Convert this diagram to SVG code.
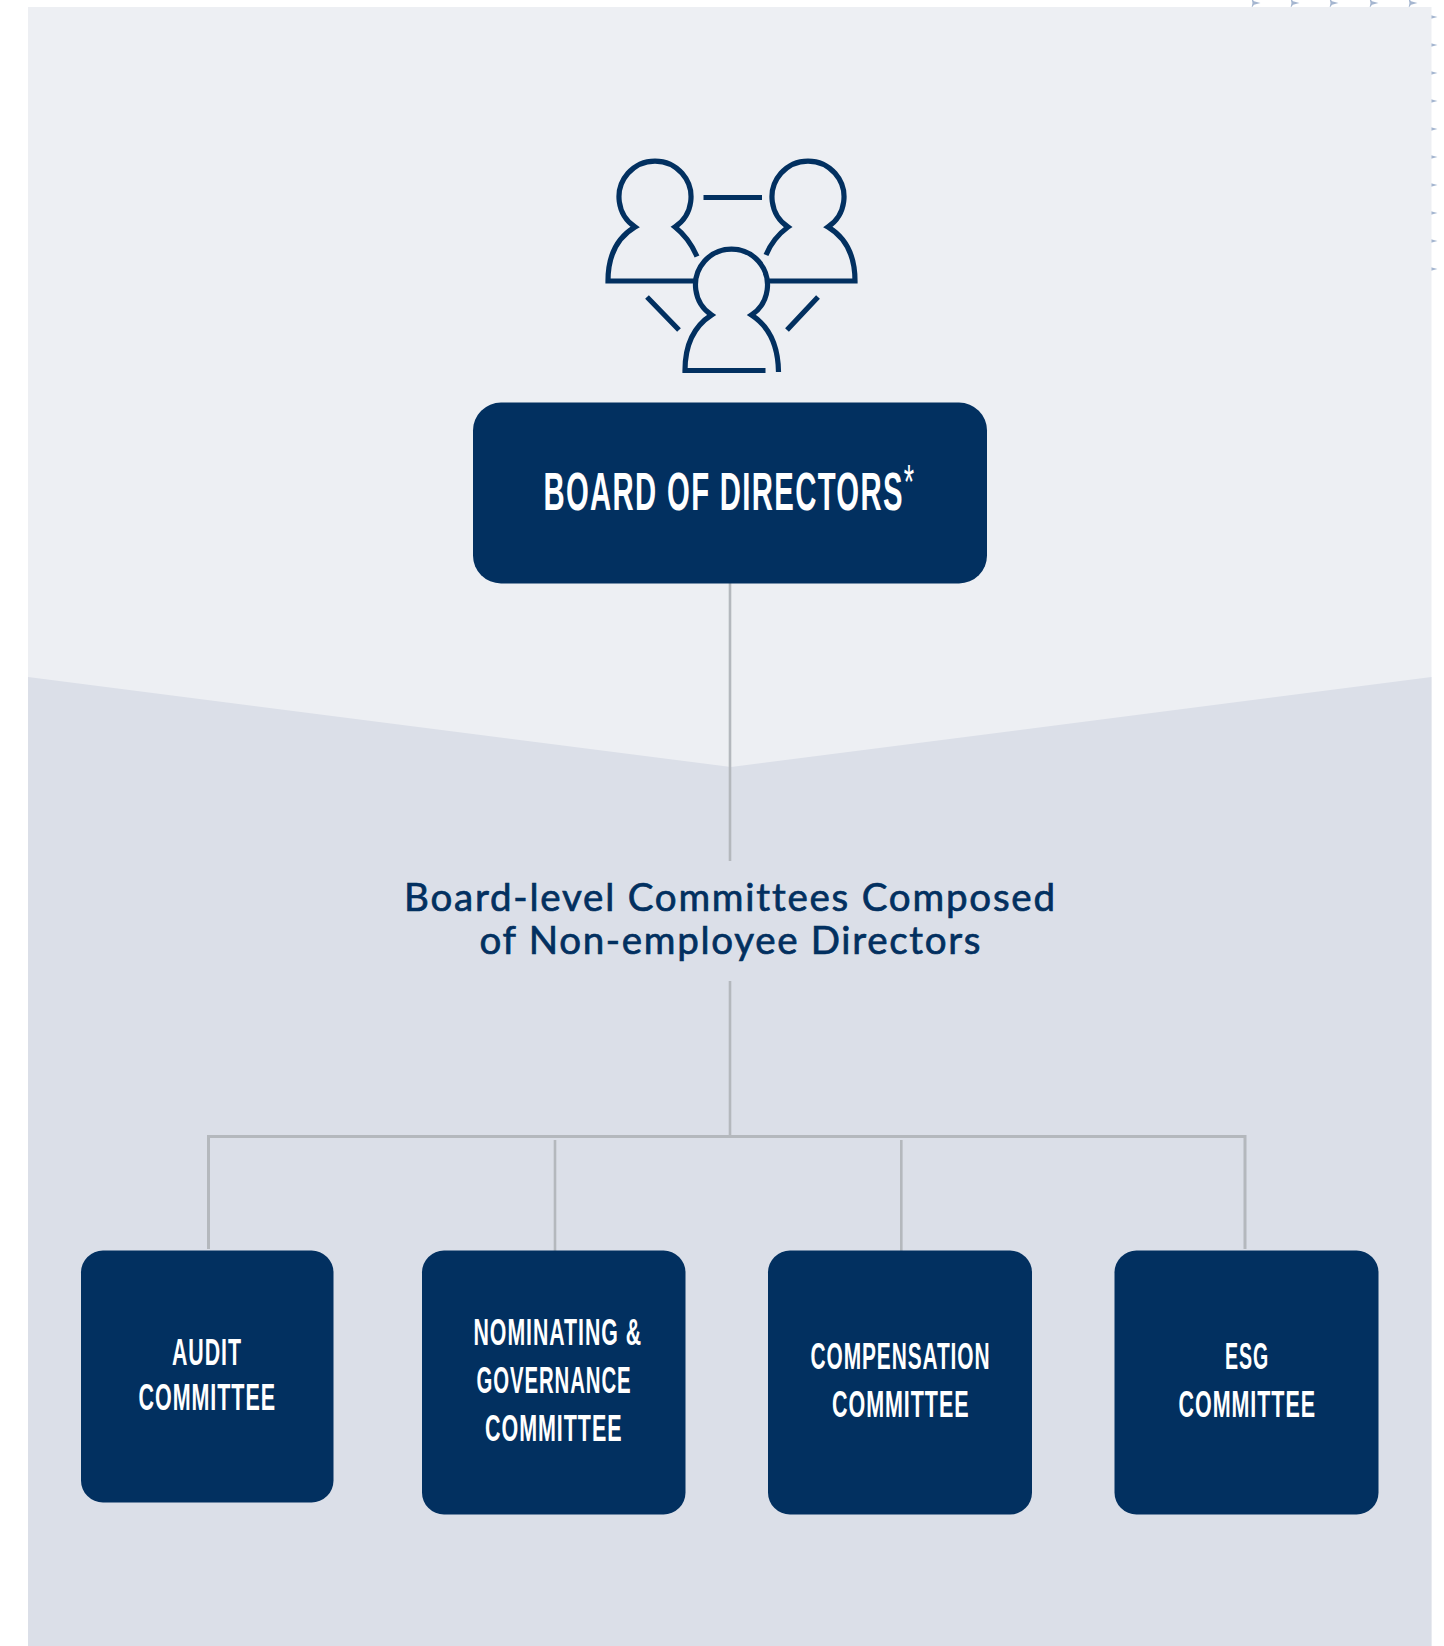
<svg xmlns="http://www.w3.org/2000/svg" width="1444" height="1646" viewBox="0 0 1444 1646">
  <style>
    .box { fill: #023060; }
    .cond { font-family: "Liberation Sans Narrow", "Liberation Sans", Arial, sans-serif; font-weight: 700; fill: #ffffff; }
    .sm { font-size: 36px; letter-spacing: 1.6px; }
    .lg { font-size: 53px; letter-spacing: 2.4px; }
    .sub { font-family: Lato, "Noto Sans", sans-serif; font-weight: 400; font-size: 38.5px; fill: #023060; stroke: #023060; stroke-width: 0.7px; font-variant-ligatures: none; }
    .conn { fill: none; stroke: #b4b8bd; stroke-width: 2.6; }
    .bar { fill: none; stroke: #b4b8bd; stroke-width: 3; }
    .ico { fill: none; stroke: #023060; stroke-width: 5.2; }
    .dot { fill: #a5b6d0; }
  </style>
  <defs>
    <path id="star" class="dot" d="M5.5,0 L-1,-1.8 L-3.5,-5 L-2.5,0 L-3.5,5 L-1,1.8 Z"/>
  </defs>
  <rect width="1444" height="1646" fill="#ffffff"/>
  <g id="pattern">
    <use href="#star" x="1255" y="3"/><use href="#star" x="1294" y="3"/><use href="#star" x="1333" y="3"/><use href="#star" x="1373" y="3"/><use href="#star" x="1412" y="3"/>
    <use href="#star" x="1432" y="17"/><use href="#star" x="1432" y="45"/><use href="#star" x="1432" y="73"/><use href="#star" x="1432" y="101"/><use href="#star" x="1432" y="129"/><use href="#star" x="1432" y="157"/><use href="#star" x="1432" y="185"/><use href="#star" x="1432" y="213"/><use href="#star" x="1432" y="241"/><use href="#star" x="1432" y="269"/>
  </g>
  <rect id="panel-top" x="28" y="7" width="1403.500" height="1639" fill="#edeff3"/>
  <polygon id="panel-bottom" points="28,677 731,767 1431.500,677 1431.500,1646 28,1646" fill="#dbdfe8"/>

  <g id="board-icon">
    <path class="ico" d="M697,256.500 Q689,238 675,227 A36,36 0 1 0 635,227 Q608,243 608,281 H696"/>
    <path class="ico" d="M766,255 Q773,238 788,227 A36,36 0 1 1 828,227 Q855,243 855,281 H768"/>
    <path class="ico" d="M765.500,370.500 H685 Q685,332 711.500,315 A36,36 0 1 1 751.500,315 Q778,332 778.500,372"/>
    <path class="ico" d="M703.500,197.500 H762 M647,297 L679,330 M818,297 L787,330"/>
  </g>

  <g id="connectors">
    <path class="conn" d="M730,583 V861"/>
    <path class="conn" d="M730,981 V1135"/>
    <path class="bar" d="M208.500,1249 V1136.500 H1245 V1249"/>
    <path class="conn" d="M555,1140 V1252"/>
    <path class="conn" d="M901.300,1140 V1252"/>
  </g>

  <g id="node-board">
    <rect class="box" x="473" y="402.500" width="514" height="181" rx="28"/>
    <text class="cond lg" x="543.500" y="510" textLength="372" lengthAdjust="spacingAndGlyphs">BOARD OF DIRECTORS<tspan font-size="48" font-weight="400" dy="-12">*</tspan></text>
  </g>

  <g id="label-committees">
    <text class="sub" x="404" y="911" textLength="651" lengthAdjust="spacing">Board-level Committees Composed</text>
    <text class="sub" x="479.500" y="954" textLength="501" lengthAdjust="spacing">of Non-employee Directors</text>
  </g>

  <g id="node-audit">
    <rect class="box" x="81" y="1250.500" width="252.500" height="252" rx="22"/>
    <text class="cond sm" x="172" y="1365" textLength="70" lengthAdjust="spacingAndGlyphs">AUDIT</text>
    <text class="cond sm" x="138.500" y="1410" textLength="137.500" lengthAdjust="spacingAndGlyphs">COMMITTEE</text>
  </g>
  <g id="node-nominating">
    <rect class="box" x="422" y="1250.500" width="263.500" height="264" rx="22"/>
    <text class="cond sm" x="473.500" y="1345" textLength="168.500" lengthAdjust="spacingAndGlyphs">NOMINATING &amp;</text>
    <text class="cond sm" x="476.500" y="1393" textLength="155" lengthAdjust="spacingAndGlyphs">GOVERNANCE</text>
    <text class="cond sm" x="485" y="1441" textLength="137.500" lengthAdjust="spacingAndGlyphs">COMMITTEE</text>
  </g>
  <g id="node-compensation">
    <rect class="box" x="768" y="1250.500" width="264" height="264" rx="22"/>
    <text class="cond sm" x="810.500" y="1369" textLength="180" lengthAdjust="spacingAndGlyphs">COMPENSATION</text>
    <text class="cond sm" x="832" y="1417" textLength="137.500" lengthAdjust="spacingAndGlyphs">COMMITTEE</text>
  </g>
  <g id="node-esg">
    <rect class="box" x="1114.500" y="1250.500" width="264" height="264" rx="22"/>
    <text class="cond sm" x="1225" y="1369" textLength="44" lengthAdjust="spacingAndGlyphs">ESG</text>
    <text class="cond sm" x="1178.500" y="1417" textLength="137.500" lengthAdjust="spacingAndGlyphs">COMMITTEE</text>
  </g>
</svg>
